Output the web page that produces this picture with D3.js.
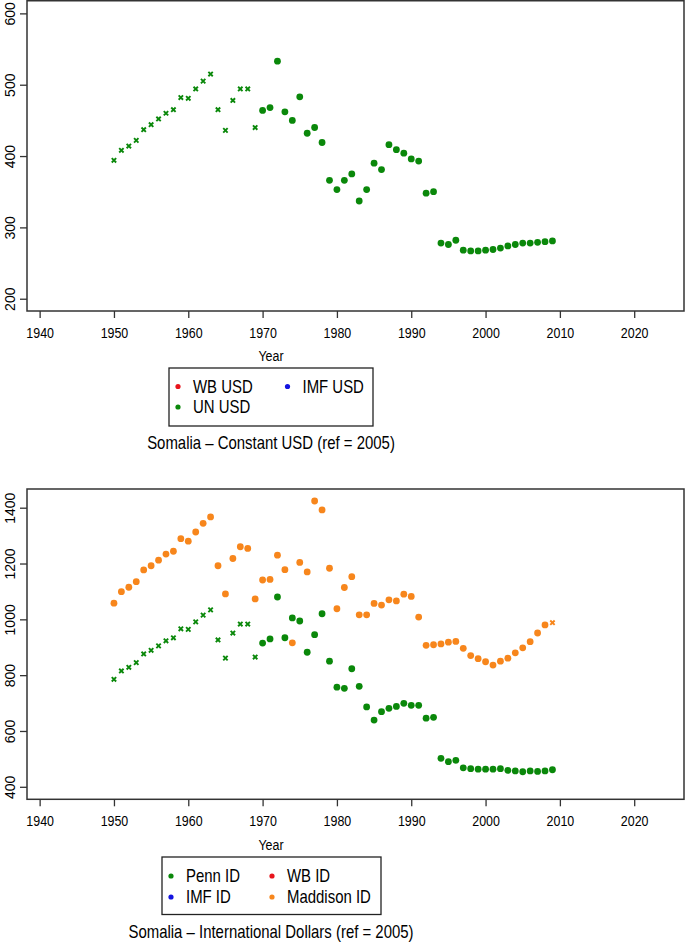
<!DOCTYPE html>
<html>
<head>
<meta charset="utf-8">
<script src="https://d3js.org/d3.v7.min.js"></script>
<style>
  body { margin: 0; background: #fff; }
  svg { display: block; }
  text { font-family: "Liberation Sans", Arial, sans-serif; fill: #000; }
</style>
</head>
<body>
<svg id="chart" width="685" height="943"></svg>
<script>
// ---- data ----
const years = d3.range(1950, 2010);
const xTicks = [1940, 1950, 1960, 1970, 1980, 1990, 2000, 2010, 2020];

// Constant USD panel
const unUsd = [394, 408, 414, 422, 437, 444, 452, 460, 465, 482,
  481, 494, 505, 515, 465, 436, 478, 494, 494, 440,
  464, 468, 533, 462, 450, 483, 432, 440, 419, 366,
  353, 366, 375, 337, 353, 390, 381, 416, 409, 404,
  396, 393, 348, 350, 278, 276, 282, 268, 267, 267,
  268, 269, 271, 274, 276, 278, 278, 279, 280, 281];
const unCrossBefore = 1970;
const usdTicks = [200, 300, 400, 500, 600];

// International dollars panel
const pennId = [785, 815, 828, 845, 876, 889, 905, 923, 934, 966,
  964, 991, 1015, 1034, 926, 861, 951, 983, 983, 865,
  915, 930, 1080, 934, 1005, 994, 882, 945, 1020, 850,
  757, 753, 823, 760, 686, 639, 669, 681, 688, 699,
  692, 692, 646, 649, 502, 490, 495, 468, 465, 463,
  463, 463, 465, 459, 457, 454, 457, 455, 457, 461];
const pennCrossBefore = 1970;
const maddisonId = [1058, 1099, 1115, 1135, 1177, 1192, 1212, 1234, 1244, 1289,
  1280, 1313, 1344, 1367, 1192, 1091, 1218, 1260, 1254, 1073,
  1141, 1143, 1230, 1178, 916, 1204, 1170, 1424, 1392, 1183,
  1038, 1114, 1153, 1016, 1016, 1057, 1051, 1070, 1066, 1090,
  1082, 1008, 907, 909, 912, 918, 921, 896, 870, 859,
  848, 836, 850, 861, 880, 898, 920, 951, 980, 988];
const maddisonCrossFrom = 2009;
const idTicks = [400, 600, 800, 1000, 1200, 1400];

const green = "#0a880a", orange = "#f7861c", red = "#e8141c", blue = "#1414e0";
const squeeze = "scale(0.83,1)";   // the original font is narrow

const svg = d3.select("#chart");

function label(g, x, y, str, size, anchor) {
  return g.append("text")
    .attr("transform", "translate(" + x + "," + y + ") " + squeeze)
    .attr("text-anchor", anchor || "start")
    .attr("dy", "0.35em")
    .style("font-size", size + "px")
    .text(str);
}

function panel(cfg) {
  const left = 27, right = 684;
  const g = svg.append("g");

  const x = d3.scaleLinear().domain([1938.3, 2026.7]).range([left, right]);
  const y = d3.scaleLinear().domain(cfg.yDomain).range([cfg.bottom, cfg.top]);

  // frame
  g.append("rect")
    .attr("x", left).attr("y", cfg.top)
    .attr("width", right - left).attr("height", cfg.bottom - cfg.top)
    .attr("fill", "none").attr("stroke", "#333").attr("stroke-width", 1.5);

  // x axis
  const xa = g.append("g").attr("transform", "translate(0," + cfg.bottom + ")")
    .call(d3.axisBottom(x).tickValues(xTicks).tickFormat(d3.format("d")).tickSize(7).tickPadding(9));
  xa.select(".domain").remove();
  xa.selectAll("line").attr("stroke", "#333").attr("stroke-width", 1.3);
  xa.selectAll("text").style("font-size", "15px").style("font-family", null)
    .attr("transform", squeeze);

  // y axis
  const ya = g.append("g").attr("transform", "translate(" + left + ",0)")
    .call(d3.axisLeft(y).tickValues(cfg.yTicks).tickSize(7).tickFormat(d3.format("d")));
  ya.select(".domain").remove();
  ya.selectAll("line").attr("stroke", "#333").attr("stroke-width", 1.3);
  ya.selectAll("text").remove();
  ya.selectAll(".tick").append("text")
    .attr("transform", "translate(-17,0) rotate(-90)")
    .attr("text-anchor", "middle")
    .attr("dy", "0.35em")
    .style("font-size", "14px")
    .text(d => d);

  label(g, 271, cfg.bottom + 45, "Year", 15, "middle");

  // points
  cfg.series.forEach(s => {
    const pts = years.map((yr, i) => ({ yr: yr, v: s.values[i] }));
    const dots = pts.filter(p => !s.isCross(p.yr));
    const crosses = pts.filter(p => s.isCross(p.yr));
    g.append("g").selectAll("circle").data(dots).enter().append("circle")
      .attr("cx", d => x(d.yr)).attr("cy", d => y(d.v))
      .attr("r", 3.4).attr("fill", s.color);
    g.append("g").selectAll("path").data(crosses).enter().append("path")
      .attr("transform", d => "translate(" + x(d.yr) + "," + y(d.v) + ")")
      .attr("d", "M-2.2,-2.2L2.2,2.2M-2.2,2.2L2.2,-2.2")
      .attr("stroke", s.color).attr("stroke-width", 1.9).attr("fill", "none");
  });

  // legend
  const lg = cfg.legend;
  g.append("rect")
    .attr("x", lg.x).attr("y", lg.y).attr("width", lg.w).attr("height", lg.h)
    .attr("fill", "none").attr("stroke", "#222").attr("stroke-width", 1.3);
  lg.items.forEach(it => {
    g.append("circle").attr("cx", it.dx).attr("cy", it.dy).attr("r", 2.6).attr("fill", it.color);
    label(g, it.dx + 15, it.dy, it.label, 18);
  });

  label(g, 271, cfg.titleY, cfg.title, 18, "middle");
}

panel({
  top: 0.75, bottom: 311, yDomain: [182.8, 617.7], yTicks: usdTicks,
  series: [{ values: unUsd, color: green, isCross: yr => yr < unCrossBefore }],
  legend: {
    x: 169, y: 368, w: 204, h: 58,
    items: [
      { label: "WB USD", color: red, dx: 178, dy: 386.5 },
      { label: "IMF USD", color: blue, dx: 287.5, dy: 386.5 },
      { label: "UN USD", color: green, dx: 178, dy: 407 }
    ]
  },
  title: "Somalia \u2013 Constant USD (ref = 2005)", titleY: 443
});

panel({
  top: 489, bottom: 799.3, yDomain: [355.2, 1467], yTicks: idTicks,
  series: [
    { values: pennId, color: green, isCross: yr => yr < pennCrossBefore },
    { values: maddisonId, color: orange, isCross: yr => yr >= maddisonCrossFrom }
  ],
  legend: {
    x: 162, y: 857, w: 219, h: 57.5,
    items: [
      { label: "Penn ID", color: green, dx: 171, dy: 876 },
      { label: "WB ID", color: red, dx: 272, dy: 876 },
      { label: "IMF ID", color: blue, dx: 171, dy: 897 },
      { label: "Maddison ID", color: orange, dx: 272, dy: 897 }
    ]
  },
  title: "Somalia \u2013 International Dollars (ref = 2005)", titleY: 932
});
</script>
</body>
</html>
